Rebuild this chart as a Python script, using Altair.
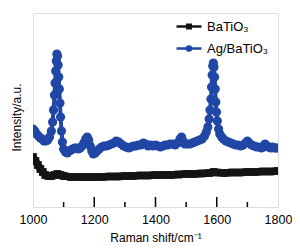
import altair as alt
import pandas as pd

series = ["BaTiO₃", "Ag/BaTiO₃"]
colors = ["#141414", "#2147a6"]

ag_x = [1000, 1006, 1012, 1018, 1024, 1030, 1036, 1042, 1048, 1054, 1060, 1064, 1067, 1070, 1072, 1074, 1076, 1078,
        1080, 1082, 1084, 1086, 1088, 1090, 1093, 1096, 1100, 1106, 1112, 1118, 1124, 1130, 1136, 1142, 1148, 1154,
        1160, 1166, 1172, 1177, 1182, 1187, 1192, 1197, 1203, 1209, 1216, 1224, 1232, 1240, 1248, 1256, 1264, 1272,
        1280, 1288, 1296, 1304, 1312, 1320, 1328, 1336, 1344, 1352, 1360, 1368, 1376, 1384, 1392, 1400, 1408, 1416,
        1424, 1432, 1440, 1448, 1456, 1464, 1472, 1480, 1485, 1490, 1496, 1504, 1512, 1520, 1528, 1536, 1544, 1552,
        1560, 1566, 1571, 1575, 1578, 1581, 1583, 1585, 1587, 1589, 1591, 1593, 1595, 1597, 1599, 1602, 1606, 1610,
        1616, 1622, 1630, 1638, 1646, 1654, 1662, 1670, 1678, 1686, 1694, 1700, 1706, 1714, 1722, 1730, 1738, 1746,
        1752, 1758, 1764, 1770, 1776, 1782, 1788, 1794, 1800]
ag_y = [78, 76, 73, 71, 69, 68, 66, 66, 67, 70, 76, 85, 97, 112, 124, 136, 146, 153,
        151, 142, 130, 118, 104, 90, 76, 65, 58, 55, 54, 56, 57, 58, 59, 59, 58, 59,
        61, 64, 68, 70, 67, 61, 56, 53, 54, 56, 58, 60, 61, 61, 62, 63, 64, 66,
        65, 63, 61, 60, 59, 60, 61, 61, 62, 62, 64, 63, 61, 62, 61, 62, 61, 60,
        61, 62, 62, 63, 63, 62, 64, 68, 70, 66, 63, 63, 63, 64, 65, 66, 67, 68,
        71, 75, 80, 88, 97, 108, 120, 132, 141, 144, 140, 130, 118, 105, 95, 86, 78, 73,
        70, 68, 66, 65, 64, 63, 62, 62, 61, 62, 64, 66, 64, 62, 61, 60, 60, 59,
        60, 63, 61, 60, 59, 60, 59, 59, 59]

ba_x = [1000, 1008, 1016, 1024, 1032, 1040, 1050, 1060, 1070, 1080, 1090, 1100, 1125, 1150, 1175, 1200, 1225,
        1250, 1275, 1300, 1325, 1350, 1375, 1400, 1425, 1450, 1475, 1500, 1525, 1550, 1575, 1590, 1600, 1625,
        1650, 1675, 1700, 1725, 1750, 1775, 1800]
ba_y = [50, 46, 42, 38, 35, 32, 31, 31, 32, 33, 32, 31, 30, 30, 30, 30, 30,
        30.5, 30.5, 31, 31, 31.5, 31.5, 32, 32, 32, 32.5, 33, 33, 33.5, 34, 35, 34.5, 34,
        34.5, 34.5, 35, 35, 35.5, 35.5, 36]

major_ticks = [1200, 1400, 1600]
minor_ticks = [1100, 1300, 1500, 1700]
x_labels = [1000, 1200, 1400, 1600, 1800]

FONT = "Liberation Sans"
W, H = 245, 194

ba_df = pd.DataFrame({"x": ba_x, "y": ba_y, "s": series[0]})
ag_df = pd.DataFrame({"x": ag_x, "y": ag_y, "s": series[1]})

x_enc = alt.X("x:Q", scale=alt.Scale(domain=[1000, 1800], nice=False),
              axis=alt.Axis(values=x_labels, format="d", labelFlush=False, ticks=False, tickSize=0,
                            domain=False, grid=False,
                            labelFontSize=12.5, labelFont=FONT, labelColor="black", labelPadding=6,
                            title="Raman shift/cm⁻¹", titleFontSize=12, titleFont=FONT,
                            titleFontWeight="normal", titleColor="black",
                            titleBaseline="middle", titleY=30))
y_enc = alt.Y("y:Q", scale=alt.Scale(domain=[0, 194], nice=False, zero=False),
              axis=alt.Axis(labels=False, ticks=False, domain=False, grid=False,
                            title="Intensity/a.u.", titleFontSize=12, titleFont=FONT,
                            titleFontWeight="normal", titleColor="black",
                            titleAngle=-90, titleX=-17, titleY=104, titleBaseline="middle",
                            titleAlign="center"))

sq_path = "M-1,0H1M-0.14,-0.14H0.14V0.14H-0.14Z"
ci_path = "M-1,0H1M0.16,0A0.16,0.16 0 1,1 -0.16,0A0.16,0.16 0 1,1 0.16,0Z"


def legend(i, path, ly):
    return alt.Legend(orient="none", legendX=142, legendY=ly, title=None, symbolType=path,
                      symbolSize=625, symbolStrokeColor=colors[i], symbolFillColor=colors[i],
                      symbolStrokeWidth=2.5, labelFontSize=13, labelFont=FONT, labelColor="black",
                      padding=0, labelOffset=4)


ba_line = alt.Chart(ba_df).mark_line(color=colors[0], strokeWidth=7.5, clip=True).encode(x=x_enc, y=y_enc)
ba_pts = alt.Chart(ba_df).mark_point(filled=True, shape="square", size=60, opacity=1, clip=True).encode(
    x=x_enc, y=y_enc,
    color=alt.Color("s:N", scale=alt.Scale(domain=[series[0]], range=[colors[0]]),
                    legend=legend(0, sq_path, -0.5)))
ag_line = alt.Chart(ag_df).mark_line(color=colors[1], strokeWidth=4, clip=True).encode(x=x_enc, y=y_enc)
ag_pts = alt.Chart(ag_df).mark_point(filled=True, shape="circle", size=85, opacity=1, clip=True).encode(
    x=x_enc, y=y_enc,
    color=alt.Color("s:N", scale=alt.Scale(domain=[series[1]], range=[colors[1]]),
                    legend=legend(1, ci_path, 21.5)))

major_df = pd.DataFrame({"x": major_ticks})
minor_df = pd.DataFrame({"x": minor_ticks})
maj = alt.Chart(major_df).mark_rule(color="black", strokeWidth=1.5).encode(
    x=alt.X("x:Q"), y=alt.value(H), y2=alt.value(H - 10))
mino = alt.Chart(minor_df).mark_rule(color="black", strokeWidth=1.5).encode(
    x=alt.X("x:Q"), y=alt.value(H), y2=alt.value(H - 5))

chart = alt.layer(ba_line, ba_pts, ag_line, ag_pts, maj, mino).resolve_scale(color="independent").properties(
    width=W, height=H,
    autosize=alt.AutoSizeParams(type="none"),
    padding={"left": 25, "top": 5, "right": 14, "bottom": 37},
    background="white",
).configure_view(stroke="black", strokeWidth=1.5).configure(font=FONT)

chart.save("out.html", embed_options={"renderer": "svg", "actions": False})
